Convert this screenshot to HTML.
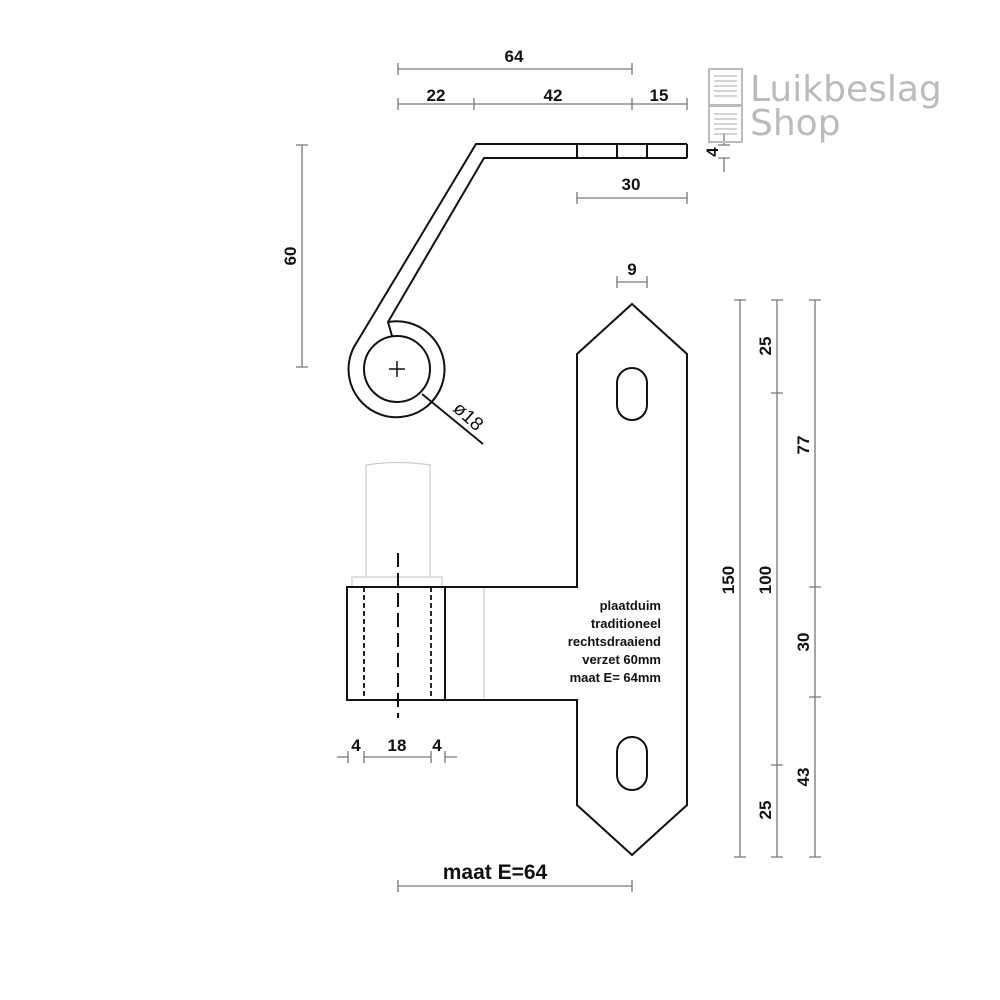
<!DOCTYPE html>
<html><head><style>body{margin:0;background:#fff}svg{display:block}</style></head><body>
<svg width="1000" height="1000" viewBox="0 0 1000 1000" xmlns="http://www.w3.org/2000/svg" font-family="Liberation Sans, sans-serif" font-weight="bold">
<rect width="1000" height="1000" fill="#fff"/>
<g stroke="#777" stroke-width="1.3" fill="none">
<path d="M398 69H632M398 63v12M632 63v12"/>
<path d="M398 104H687M398 98v12M474 98v12M632 98v12M687 98v12"/>
<path d="M577 198H687M577 192v12M687 192v12"/>
<path d="M617 282H647M617 276v12M647 276v12"/>
<path d="M302 145V367M296 145h12M296 367h12"/>
<path d="M724 133V145M718 145h12M724 158V172M718 158h12"/>
<path d="M740 300V857M734 300h12M734 857h12"/>
<path d="M777 300V857M771 300h12M771 393h12M771 765h12M771 857h12"/>
<path d="M815 300V857M809 300h12M809 587h12M809 697h12M809 857h12"/>
<path d="M337 757H348M348 751v12M364 757H431M364 751v12M431 751v12M445 751v12M445 757H457"/>
<path d="M398 886H632M398 880v12M632 880v12"/>
</g>
<g font-size="17" fill="#111" text-anchor="middle">
<text x="514" y="62">64</text>
<text x="436" y="101">22</text>
<text x="553" y="101">42</text>
<text x="659" y="101">15</text>
<text x="631" y="190">30</text>
<text x="632" y="275">9</text>
<text transform="translate(296,256) rotate(-90)">60</text>
<text transform="translate(718,152) rotate(-90)">4</text>
<text transform="translate(734,580) rotate(-90)">150</text>
<text transform="translate(771,580) rotate(-90)">100</text>
<text transform="translate(771,346) rotate(-90)">25</text>
<text transform="translate(771,810) rotate(-90)">25</text>
<text transform="translate(809,445) rotate(-90)">77</text>
<text transform="translate(809,642) rotate(-90)">30</text>
<text transform="translate(809,777) rotate(-90)">43</text>
<text x="356" y="751">4</text>
<text x="397" y="751">18</text>
<text x="437" y="751">4</text>
<text x="495" y="879" font-size="21">maat E=64</text>
</g>
<g font-size="13" fill="#111" text-anchor="end">
<text x="661" y="610">plaatduim</text>
<text x="661" y="628">traditioneel</text>
<text x="661" y="646">rechtsdraaiend</text>
<text x="661" y="664">verzet 60mm</text>
<text x="661" y="682">maat E= 64mm</text>
</g>
<g stroke="#111" stroke-width="2" fill="none">
<path d="M687 144H476L357 342A48 48 0 1 0 388 322"/>
<path d="M687 158H484L388 322L392 336"/>
<path d="M687 144V158M577 144V158M617 144V158M647 144V158"/>
<circle cx="397" cy="369" r="33"/>
<path d="M389 369h16M397 361v16" stroke-width="1.5"/>
<path d="M422 394L483 444" stroke-width="1.8"/>
</g>
<text transform="translate(452,410) rotate(42)" font-size="19" font-weight="normal" fill="#111">ø18</text>
<g stroke="#ccc" stroke-width="1.2" fill="none">
<path d="M366 577V465Q398 460 430 465V577"/>
<path d="M352 587V577H442V587"/>
<path d="M484 587V698"/>
</g>
<g stroke="#111" stroke-width="2" fill="none">
<path d="M632 304L687 354V805L632 855L577 805V700H347V587H577V354Z"/>
<path d="M445 587V700"/>
<rect x="617" y="368" width="30" height="52" rx="15"/>
<rect x="617" y="737" width="30" height="53" rx="15"/>
<path d="M364 587V700M431 587V700" stroke-dasharray="5 3" stroke-width="1.8"/>
<path d="M398 553V718" stroke-dasharray="14 6" stroke-width="2"/>
</g>
<g stroke="#bbb" fill="none" stroke-width="2">
<rect x="709" y="69" width="33" height="36"/>
<rect x="709" y="106" width="33" height="36"/>
<path d="M714 76h23M714 81h23M714 86h23M714 91h23M714 96h23M714 114h23M714 119h23M714 124h23M714 129h23M714 134h23" stroke-width="1.2"/>
</g>
<g font-family="DejaVu Sans, sans-serif" font-weight="normal" fill="#bbb" font-size="36">
<text x="750" y="101">Luikbeslag</text>
<text x="750" y="135">Shop</text>
</g>
</svg>
</body></html>
